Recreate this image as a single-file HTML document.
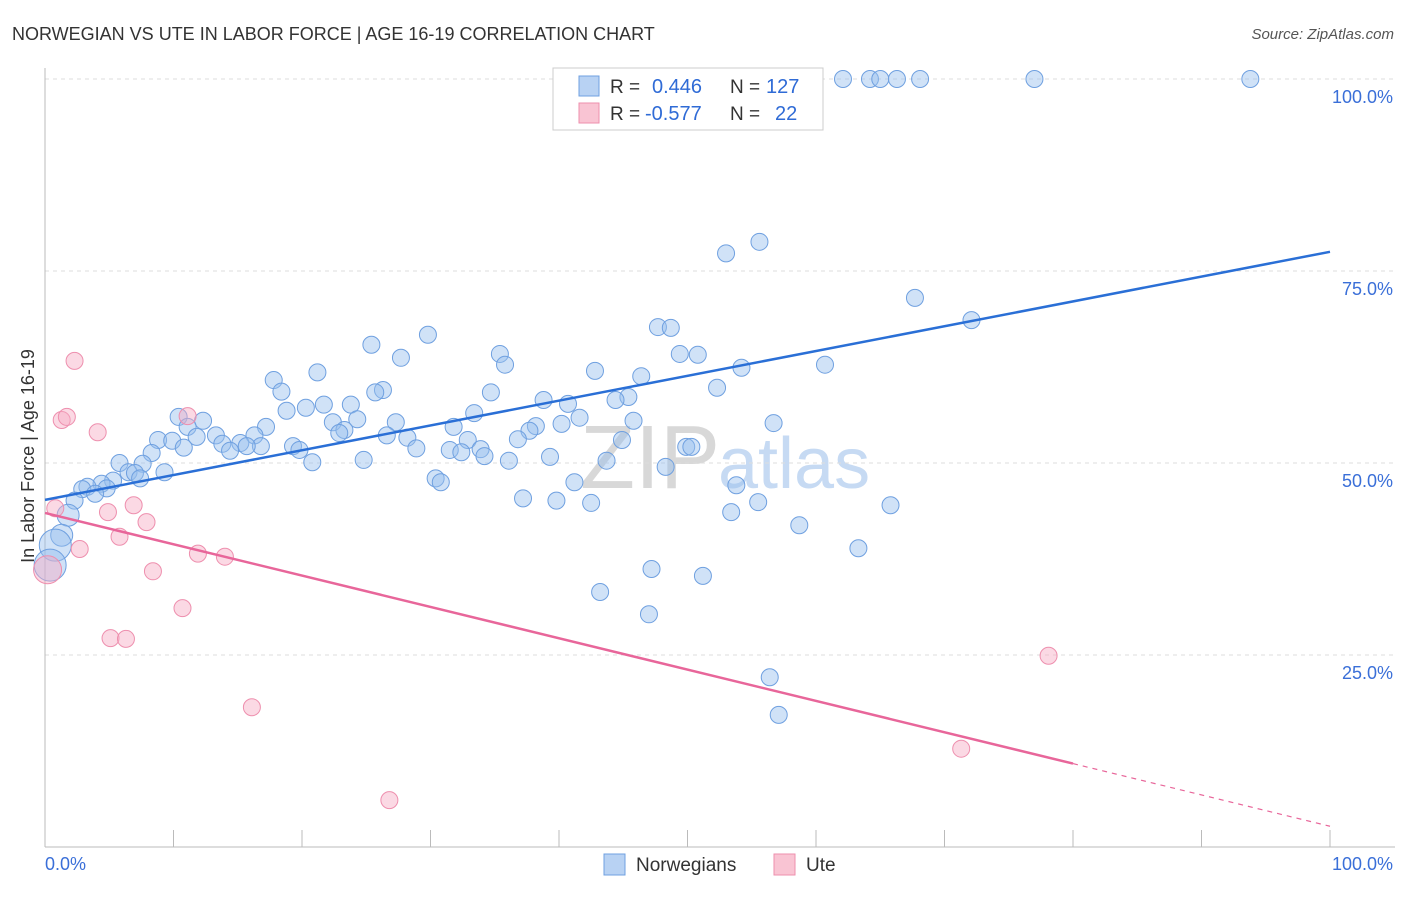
<!DOCTYPE html>
<html><head><meta charset="utf-8">
<style>
body{margin:0;background:#fff;font-family:"Liberation Sans",sans-serif;}
svg text{font-family:"Liberation Sans",sans-serif;}
</style></head>
<body>
<svg id="chart" width="1406" height="892" xmlns="http://www.w3.org/2000/svg">
<text x="12" y="40" font-size="18" fill="#333">NORWEGIAN VS UTE IN LABOR FORCE | AGE 16-19 CORRELATION CHART</text>
<text x="1394" y="39" font-size="15" fill="#555" text-anchor="end" font-style="italic">Source: ZipAtlas.com</text>
<text x="720" y="488" font-size="90" fill="#d8d8d8" text-anchor="end" font-family="Liberation Serif">ZIP</text>
<text x="718" y="488" font-size="72" fill="#c6daf3">atlas</text>
<g id="grid"></g>
<g id="axes"></g>
<g id="pts"></g>
<g id="lines"></g>
<text x="34" y="456" font-size="18" fill="#333" text-anchor="middle" transform="rotate(-90 34 456)">In Labor Force | Age 16-19</text>
<g>
<rect x="553" y="68" width="270" height="62" fill="#fff" stroke="#ccc"/>
<rect x="579" y="76" width="20" height="20" fill="#b8d2f3" stroke="#6fa0e0"/>
<rect x="579" y="103" width="20" height="20" fill="#f9c4d3" stroke="#ee8fae"/>
<text x="610" y="93" font-size="19" fill="#333">R = </text><text x="652" y="93" font-size="20" fill="#2f6bd6">0.446</text>
<text x="730" y="93" font-size="19" fill="#333">N = </text><text x="766" y="93" font-size="20" fill="#2f6bd6">127</text>
<text x="610" y="120" font-size="19" fill="#333">R = </text><text x="645" y="120" font-size="20" fill="#2f6bd6">-0.577</text>
<text x="730" y="120" font-size="19" fill="#333">N = </text><text x="775" y="120" font-size="20" fill="#2f6bd6">22</text>
</g>
<g>
<rect x="604" y="854" width="21" height="21" fill="#b8d2f3" stroke="#6fa0e0"/>
<text x="636" y="871" font-size="19" fill="#333">Norwegians</text>
<rect x="774" y="854" width="21" height="21" fill="#f9c4d3" stroke="#ee8fae"/>
<text x="806" y="871" font-size="19" fill="#333">Ute</text>
</g>
</svg>
<script>
const yTicks=[25,50,75,100];
const yTickLabels=["25.0%","50.0%","75.0%","100.0%"];
const blueX=[62.1,64.2,65.0,66.3,68.1,77.0,93.8,55.6,53.0,67.7,72.1,47.7,48.7,29.8,25.4,27.7,35.4,35.8,49.4,50.8,60.7,54.2,42.8,46.4,21.2,17.8,18.4,26.3,25.7,34.7,52.3,45.4,44.4,38.8,40.7,21.7,23.8,20.3,18.8,33.4,41.6,45.8,56.7,10.4,12.3,22.4,24.3,27.3,17.2,11.1,23.3,22.9,31.8,38.2,40.2,37.7,16.3,13.3,11.8,26.6,28.2,32.9,36.8,44.9,8.8,9.9,15.2,13.8,16.8,15.7,14.4,10.8,19.3,19.8,28.9,31.5,33.9,32.4,34.2,49.9,50.3,8.3,7.6,20.8,24.8,36.1,39.3,43.7,48.3,5.8,9.3,6.5,7.0,7.4,5.3,4.4,3.3,2.9,4.8,3.9,30.4,30.8,41.2,53.8,37.2,39.8,42.5,55.5,65.8,53.4,2.3,1.8,58.7,63.3,1.3,0.8,0.4,47.2,51.2,43.2,47.0,56.4,57.1];
const blueY=[100,100,100,100,100,100,100,78.8,77.3,71.5,68.6,67.7,67.6,66.7,65.4,63.7,64.2,62.8,64.2,64.1,62.8,62.4,62.0,61.3,61.8,60.8,59.3,59.5,59.2,59.2,59.8,58.6,58.2,58.2,57.7,57.6,57.6,57.2,56.8,56.5,55.9,55.5,55.2,56.0,55.5,55.3,55.7,55.3,54.7,54.7,54.3,53.9,54.7,54.8,55.1,54.2,53.6,53.6,53.4,53.6,53.3,53.0,53.1,53.0,53.0,52.9,52.6,52.5,52.2,52.2,51.6,52.0,52.2,51.7,51.9,51.7,51.8,51.4,50.9,52.1,52.1,51.3,49.9,50.1,50.4,50.3,50.8,50.3,49.5,50.0,48.8,48.8,48.7,48.0,47.7,47.3,46.9,46.6,46.7,46.0,48.0,47.5,47.5,47.1,45.4,45.1,44.8,44.9,44.5,43.6,45.1,43.2,41.9,38.9,40.6,39.3,36.7,36.2,35.3,33.2,30.3,22.1,17.2];
const pinkX=[0.2,0.8,1.3,1.7,2.3,2.7,4.1,4.9,5.8,5.1,6.3,6.9,7.9,8.4,10.7,11.1,11.9,14.0,16.1,26.8,78.1,71.3];
const pinkY=[36.1,44.1,55.6,56.0,63.3,38.8,54.0,43.6,40.4,27.2,27.1,44.5,42.3,35.9,31.1,56.1,38.2,37.8,18.2,6.1,24.9,12.8];
const blueTrend=[45.2,77.5];
const pinkTrend=[43.5,2.7];
const pinkSolidEnd=80;

const NS="http://www.w3.org/2000/svg";
const X=v=>45+v*12.85;
const Y=v=>847-v*7.68;
function mk(tag,attrs,parent){const e=document.createElementNS(NS,tag);for(const k in attrs)e.setAttribute(k,attrs[k]);parent.appendChild(e);return e;}
const grid=document.getElementById('grid'),axes=document.getElementById('axes'),pts=document.getElementById('pts'),lines=document.getElementById('lines');
yTicks.forEach((t,i)=>{
  const l=mk('line',{x1:45,x2:1395,y1:Y(t),y2:Y(t),stroke:'#ddd','stroke-dasharray':'4,4'},grid);
  
  
  const tx=mk('text',{x:1393,y:Y(t)+24,'font-size':18,fill:'#3a6fd8','text-anchor':'end'},grid);
  tx.textContent=yTickLabels[i];
  
  
});
const ya=mk('line',{x1:45,x2:45,y1:68,y2:847,stroke:'#bbb'},axes);


const xa=mk('line',{x1:45,x2:1395,y1:847,y2:847,stroke:'#bbb'},axes);


for(let k=0;k<=10;k++){const t=mk('line',{x1:X(k*10),x2:X(k*10),y1:830,y2:847,stroke:'#bbb'},axes);
  
  }
[["0.0%",45,'start'],["100.0%",1393,'end']].forEach(a=>{const t=mk('text',{x:a[1],y:870,'font-size':18,fill:'#3a6fd8','text-anchor':a[2]},axes);t.textContent=a[0];
  
  });
blueX.forEach((v,i)=>{const r=(v<1)?16:(v<2?11:8.5);
  const c=mk('circle',{cx:X(v),cy:Y(blueY[i]),r:r,fill:'rgba(150,190,238,0.45)',stroke:'#6fa0e0','stroke-width':1},pts);
  
  });
pinkX.forEach((v,i)=>{const r=(v<0.5)?14:8.5;
  const c=mk('circle',{cx:X(v),cy:Y(pinkY[i]),r:r,fill:'rgba(246,170,195,0.45)',stroke:'#ee8fae','stroke-width':1},pts);
  
  });
const bl=mk('line',{x1:X(0),y1:Y(blueTrend[0]),x2:X(100),y2:Y(blueTrend[1]),stroke:'#2a6fd6','stroke-width':2.5},lines);


const pe=pinkTrend[0]+(pinkTrend[1]-pinkTrend[0])*pinkSolidEnd/100;
const pl=mk('line',{x1:X(0),y1:Y(pinkTrend[0]),x2:X(pinkSolidEnd),y2:Y(pe),stroke:'#e8669a','stroke-width':2.5},lines);


const pd=mk('line',{x1:X(pinkSolidEnd),y1:Y(pe),x2:X(100),y2:Y(pinkTrend[1]),stroke:'#e8669a','stroke-width':1.2,'stroke-dasharray':'5,5'},lines);


</script>
</body></html>
